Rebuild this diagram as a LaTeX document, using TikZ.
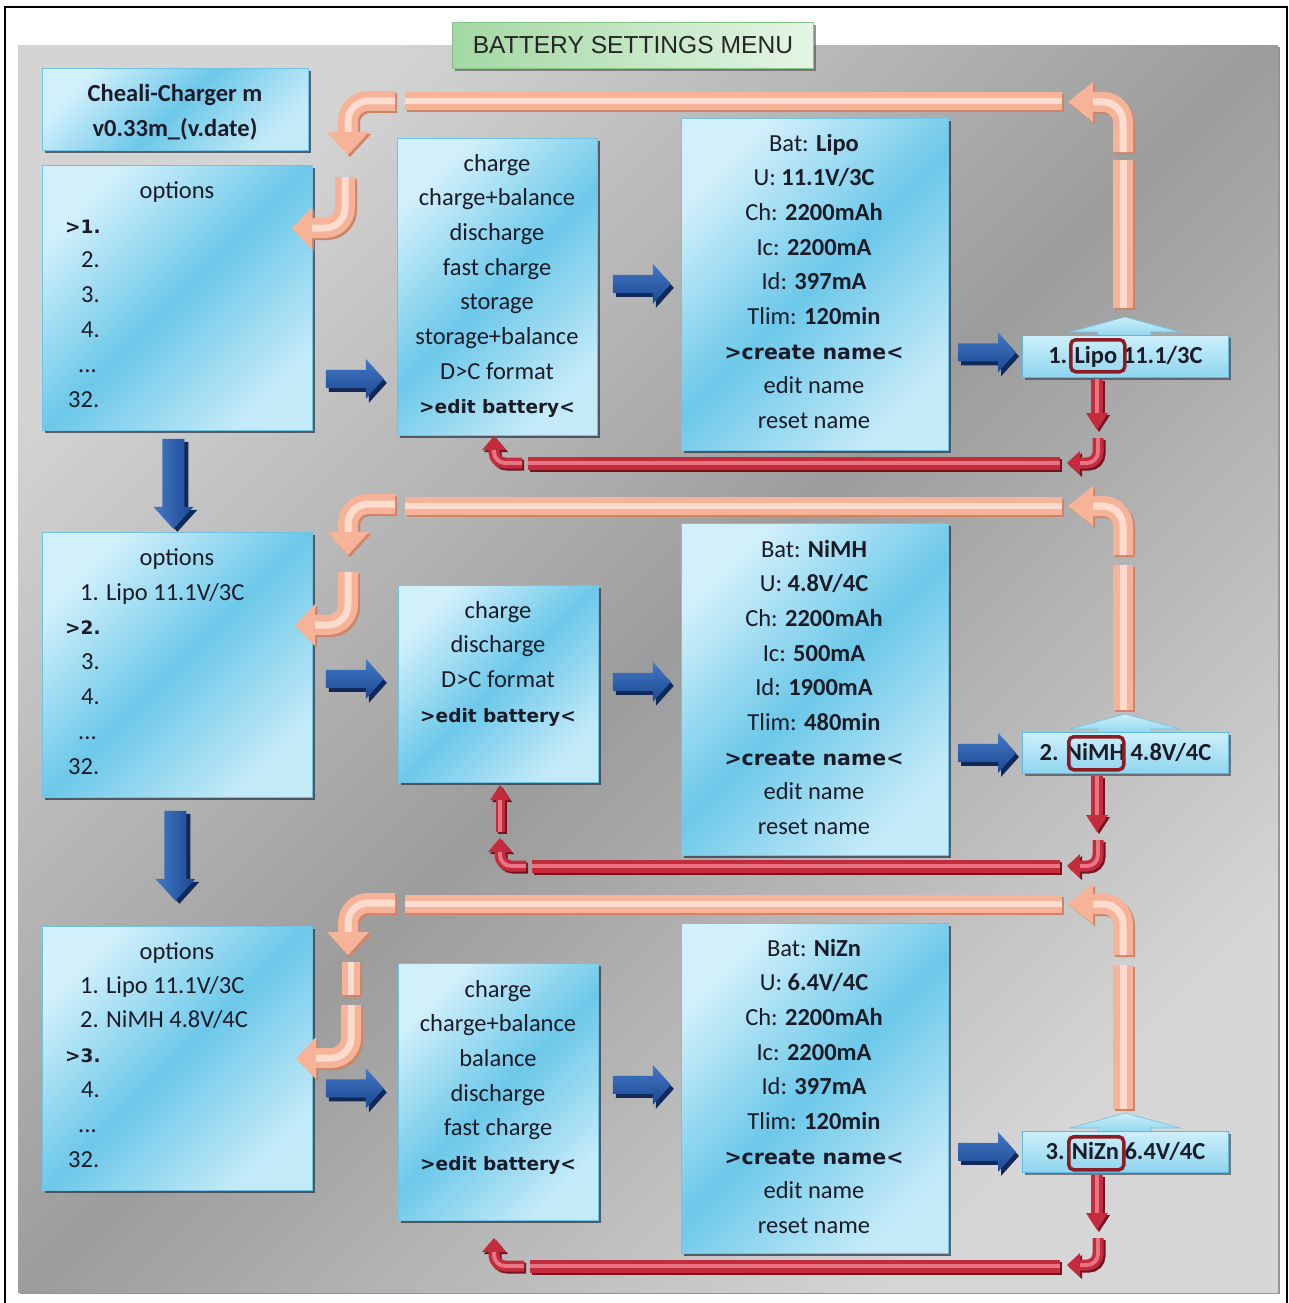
\documentclass[tikz,border=0pt]{standalone}
\usepackage{fontspec}
\setmainfont{Carlito}
\newfontfamily\heavyfont{DejaVu Sans}
\newfontfamily\titlefont{Liberation Sans}
\usetikzlibrary{calc,shadows}
\definecolor{txt}{HTML}{1B1B28}
\definecolor{bxl}{HTML}{D2F0FB}
\definecolor{bxm}{HTML}{6CC8E9}
\definecolor{bxb}{HTML}{C4EAF8}
\definecolor{bxe}{HTML}{6FC3E4}
\definecolor{shd}{HTML}{2E3A48}
\definecolor{rbt}{HTML}{CDEFFA}
\definecolor{rbb}{HTML}{8ED5EF}
\definecolor{rbe}{HTML}{5DB9DF}
\definecolor{wred}{HTML}{8B1C24}
\definecolor{pl}{HTML}{D4D4D4}
\definecolor{pm}{HTML}{9C9C9C}
\definecolor{pb}{HTML}{D6D6D6}
\definecolor{tg1}{HTML}{A3D8A3}
\definecolor{tg2}{HTML}{E4F5E4}
\definecolor{tge}{HTML}{86C486}
\definecolor{blhi}{HTML}{4379C6}
\definecolor{blad}{HTML}{1C4791}
\definecolor{blas}{HTML}{10295A}
\definecolor{sald}{HTML}{CD8468}
\definecolor{salm}{HTML}{F6B398}
\definecolor{sall}{HTML}{FDDCCF}
\definecolor{redd}{HTML}{741420}
\definecolor{redm}{HTML}{C42C3D}
\definecolor{redl}{HTML}{E77583}
\newcommand\hv[1]{{\heavyfont\bfseries\fontsize{18.5}{22}\selectfont #1}}
\newcommand\hvb[1]{{\heavyfont\bfseries\fontsize{20.5}{22}\selectfont #1}}
\newcommand\ddd{.\kern0pt.\kern0pt.}
% centred text lines: name, x, first baseline, list
\newcommand\tlines[4]{\foreach \t [count=\i] in {#4}{\node[tline] (#1-\i) at (#2,{#3+(\i-1)*34.7}) {\t};}}
% left aligned lines: name, first baseline, list of x/text
\newcommand\olines[3]{\foreach \xx/\t [count=\i] in {#3}{\node[tline,anchor=base west] (#1-\i) at (\xx,{#2+(\i-1)*34.8}) {\t};}}
% 3D tube without head: colour prefix, width, path
\newcommand\btube[3]{%
  \draw[line width=#2pt,draw=#1d,xshift=2pt,yshift=-2pt,rounded corners=#2pt] #3;
  \draw[line width=#2pt,draw=#1m,rounded corners=#2pt] #3;
  \draw[line width=0.35*#2pt,draw=#1l,rounded corners=#2pt] #3;}
% 3D tube with triangular head: prefix, width, path, base1, tip, base2
\newcommand\barrow[6]{%
  \begin{scope}[xshift=2pt,yshift=-2pt]
    \draw[line width=#2pt,draw=#1d,rounded corners=#2pt] #3;
    \fill[#1d] #4 -- #5 -- #6 -- cycle;
  \end{scope}
  \draw[line width=#2pt,draw=#1m,rounded corners=#2pt] #3;
  \fill[#1m] #4 -- #5 -- #6 -- cycle;
  \draw[line width=0.35*#2pt,draw=#1l,rounded corners=#2pt] #3;}
\begin{document}
\begin{tikzpicture}[x=1pt,y=-1pt,
  tline/.style={anchor=base,inner sep=0pt,text=txt,font=\fontsize{24.5}{29}\selectfont},
  bbox/.style={anchor=north west,inner sep=0pt,draw=bxe,line width=0.8pt,
    top color=bxl,bottom color=bxb,middle color=bxm,shading angle=45,
    drop shadow={shadow xshift=3pt,shadow yshift=-3pt,fill=shd,opacity=0.75}},
  rbox/.style={anchor=north west,inner sep=0pt,draw=rbe,line width=0.8pt,
    top color=rbt,bottom color=rbb,
    drop shadow={shadow xshift=3pt,shadow yshift=-3pt,fill=shd,opacity=0.6},
    text=txt,font=\bfseries\fontsize{24.5}{29}\selectfont},
  wbox/.style={anchor=north west,draw=wred,line width=3.5pt,rounded corners=5pt,inner sep=0pt},
  rblue/.pic={
    \fill[blas] (3,-5) -- (43,-5) -- (43,-16) -- (61,4) -- (43,24) -- (43,13) -- (3,13) -- cycle;
    \shade[top color=blhi,bottom color=blad] (0,-9) -- (40,-9) -- (40,-20) -- (58,0) -- (40,20) -- (40,9) -- (0,9) -- cycle;},
  dblue/.pic={
    \fill[blas] (-7,3) -- (15,3) -- (15,71) -- (24,71) -- (4,93) -- (-16,71) -- (-7,71) -- cycle;
    \shade[left color=blhi,right color=blad] (-11,0) -- (11,0) -- (11,68) -- (20,68) -- (0,90) -- (-20,68) -- (-11,68) -- cycle;},
  chev/.pic={
    \shade[top color=rbt,bottom color=rbb,draw=bxe,line width=0.6pt]
      (-55,-3) -- (0,-18) -- (55,-3) -- (26,-3) -- (26,2) -- (-27,2) -- (-27,-3) -- cycle;}
]
\useasboundingbox (0,0) rectangle (1289,1303);
\fill[white] (0,0) rectangle (1289,1303);
\draw[line width=2.5pt] (5,1310) -- (5,7) -- (1287,7) -- (1287,1310);

% background panel
\node[anchor=north west,inner sep=0pt,minimum width=1260pt,minimum height=1247pt,
  top color=pl,bottom color=pb,middle color=pm,shading angle=45,
  drop shadow={shadow xshift=2pt,shadow yshift=-2pt,fill=black!60,opacity=0.7}] (panel) at (18,45) {};

% title
\node[anchor=north west,inner sep=0pt,minimum width=361pt,minimum height=46pt,draw=tge,line width=0.8pt,
  left color=tg1,right color=tg2,
  drop shadow={shadow xshift=3pt,shadow yshift=-3pt,fill=black!70,opacity=0.6},
  font=\titlefont\fontsize{24.6}{28}\selectfont,text=black!85] (title) at (452,22) {BATTERY SETTINGS MENU};

% boxes
\node[bbox,minimum width=266pt,minimum height=82pt] (hd) at (42,68) {};
\node[bbox,minimum width=270pt,minimum height=265pt] (o1) at (42,165) {};
\node[bbox,minimum width=200pt,minimum height=297pt] (m1) at (397,138) {};
\node[bbox,minimum width=267pt,minimum height=332pt] (b1) at (681,118) {};
\node[bbox,minimum width=270pt,minimum height=265pt] (o2) at (42,532) {};
\node[bbox,minimum width=200pt,minimum height=197pt] (m2) at (398,585) {};
\node[bbox,minimum width=267pt,minimum height=332pt] (b2) at (681,523) {};
\node[bbox,minimum width=270pt,minimum height=264pt] (o3) at (42,926) {};
\node[bbox,minimum width=200pt,minimum height=257pt] (m3) at (398,963) {};
\node[bbox,minimum width=267pt,minimum height=330pt] (b3) at (681,923) {};

% result boxes
\pic at (1125,335) {chev};
\pic at (1125,732) {chev};
\pic at (1125,1131) {chev};
\node[rbox,minimum width=206pt,minimum height=42pt] (r1) at (1022,335) {1. Lipo 11.1/3C};
\node[rbox,minimum width=206pt,minimum height=41pt] (r2) at (1022,732) {2. NiMH 4.8V/4C};
\node[rbox,minimum width=206pt,minimum height=41pt] (r3) at (1022,1131) {3. NiZn 6.4V/4C};
\node[wbox,minimum width=54pt,minimum height=32pt] (w1) at (1069,338) {};
\node[wbox,minimum width=55pt,minimum height=33pt] (w2) at (1067,735) {};
\node[wbox,minimum width=55pt,minimum height=33pt] (w3) at (1067,1135) {};

% texts
\node[tline] (hd-1) at (175,102) {\textbf{Cheali-Charger m}};
\node[tline] (hd-2) at (175,136) {\textbf{v0.33m\_(v.date)}};

\node[tline] (o1-t) at (177,198) {options};
\olines{o1}{233}{65/\hv{>1.},81/2.,81/3.,81/4.,78/\ddd,68/32.}
\tlines{m1}{497}{171}{charge,charge+balance,discharge,fast charge,storage,storage+balance,D>C format,\hv{>edit battery<}}
\tlines{b1}{814}{151}{Bat: \textbf{Lipo},U: \textbf{11.1V/3C},Ch: \textbf{2200mAh},Ic: \textbf{2200mA},Id: \textbf{397mA},Tlim: \textbf{120min},\hvb{>create name<},edit name,reset name}

\node[tline] (o2-t) at (177,565) {options};
\olines{o2}{600}{80/{1. Lipo 11.1V/3C},65/\hv{>2.},81/3.,81/4.,78/\ddd,68/32.}
\tlines{m2}{498}{618}{charge,discharge,D>C format,\hv{>edit battery<}}
\tlines{b2}{814}{557}{Bat: \textbf{NiMH},U: \textbf{4.8V/4C},Ch: \textbf{2200mAh},Ic: \textbf{500mA},Id: \textbf{1900mA},Tlim: \textbf{480min},\hvb{>create name<},edit name,reset name}

\node[tline] (o3-t) at (177,959) {options};
\olines{o3}{993}{80/{1. Lipo 11.1V/3C},80/{2. NiMH 4.8V/4C},65/\hv{>3.},81/4.,78/\ddd,68/32.}
\tlines{m3}{498}{997}{charge,charge+balance,balance,discharge,fast charge,\hv{>edit battery<}}
\tlines{b3}{814}{956}{Bat: \textbf{NiZn},U: \textbf{6.4V/4C},Ch: \textbf{2200mAh},Ic: \textbf{2200mA},Id: \textbf{397mA},Tlim: \textbf{120min},\hvb{>create name<},edit name,reset name}

% blue arrows
\pic at ($(o1.east)+(13,81)$) {rblue};
\pic at ($(m1.east)+(15,-3)$) {rblue};
\pic at ($(r1.west)+(-64,-4)$) {rblue};
\pic at ($(o2.east)+(13,14)$) {rblue};
\pic at ($(m2.east)+(14,-2)$) {rblue};
\pic at ($(r2.west)+(-64,0)$) {rblue};
\pic at ($(o3.east)+(13,30)$) {rblue};
\pic at ($(m3.east)+(14,-7)$) {rblue};
\pic at ($(r3.west)+(-64,0)$) {rblue};
\pic at ($(o1.south)+(-4,8)$) {dblue};
\pic at ($(o2.south)+(-2,13)$) {dblue};

% salmon loops (row 1)
\btube{sal}{20}{(1123,308) -- (1123,160)}
\barrow{sal}{20}{(1123,152) -- (1123,102) -- (1093,102)}{(1093,82)}{(1068,102)}{(1093,122)}
\btube{sal}{18}{(1062,101) -- (405,101)}
\barrow{sal}{20}{(395,101) -- (348,101) -- (348,132)}{(327,132)}{(348,155)}{(369,132)}
\barrow{sal}{20}{(345,177) -- (345,228) -- (312,228)}{(312,207)}{(292,228)}{(312,249)}
% row 2
\btube{sal}{20}{(1123,710) -- (1123,565)}
\barrow{sal}{20}{(1123,555) -- (1123,506) -- (1093,506)}{(1093,486)}{(1068,506)}{(1093,526)}
\btube{sal}{18}{(1062,506) -- (405,506)}
\barrow{sal}{20}{(395,504) -- (348,504) -- (348,532)}{(327,532)}{(348,555)}{(369,532)}
\barrow{sal}{20}{(348,572) -- (348,625) -- (315,625)}{(315,604)}{(295,625)}{(315,646)}
% row 3
\btube{sal}{20}{(1123,1109) -- (1123,965)}
\barrow{sal}{20}{(1123,955) -- (1123,904) -- (1093,904)}{(1093,884)}{(1068,904)}{(1093,924)}
\btube{sal}{18}{(1062,904) -- (405,904)}
\barrow{sal}{20}{(395,903) -- (348,903) -- (348,932)}{(327,932)}{(348,955)}{(369,932)}
\btube{sal}{18}{(351,962) -- (351,995)}
\barrow{sal}{20}{(351,1005) -- (351,1058) -- (316,1058)}{(316,1037)}{(296,1058)}{(316,1079)}

% red returns (row 1)
\barrow{red}{12}{(1097,379) -- (1097,413)}{(1086,413)}{(1097,430)}{(1108,413)}
\barrow{red}{11}{(1098,438) -- (1098,463) -- (1080,463)}{(1080,451)}{(1067,463)}{(1080,475)}
\btube{red}{13}{(1060,463) -- (528,463)}
\barrow{red}{11}{(522,463) -- (494,463) -- (494,450)}{(482,450)}{(494,436)}{(506,450)}
% row 2
\barrow{red}{12}{(1097,776) -- (1097,815)}{(1086,815)}{(1097,832)}{(1108,815)}
\barrow{red}{11}{(1098,840) -- (1098,866) -- (1080,866)}{(1080,854)}{(1067,866)}{(1080,878)}
\btube{red}{13}{(1060,866) -- (532,866)}
\barrow{red}{11}{(526,866) -- (500,866) -- (500,852)}{(488,852)}{(500,838)}{(512,852)}
\barrow{red}{9}{(500,832) -- (500,800)}{(490,800)}{(500,785)}{(510,800)}
% row 3
\barrow{red}{12}{(1097,1175) -- (1097,1213)}{(1086,1213)}{(1097,1230)}{(1108,1213)}
\barrow{red}{11}{(1098,1238) -- (1098,1265) -- (1080,1265)}{(1080,1253)}{(1067,1265)}{(1080,1277)}
\btube{red}{13}{(1060,1266) -- (530,1266)}
\barrow{red}{11}{(524,1266) -- (494,1266) -- (494,1252)}{(482,1252)}{(494,1238)}{(506,1252)}
\end{tikzpicture}
\end{document}
